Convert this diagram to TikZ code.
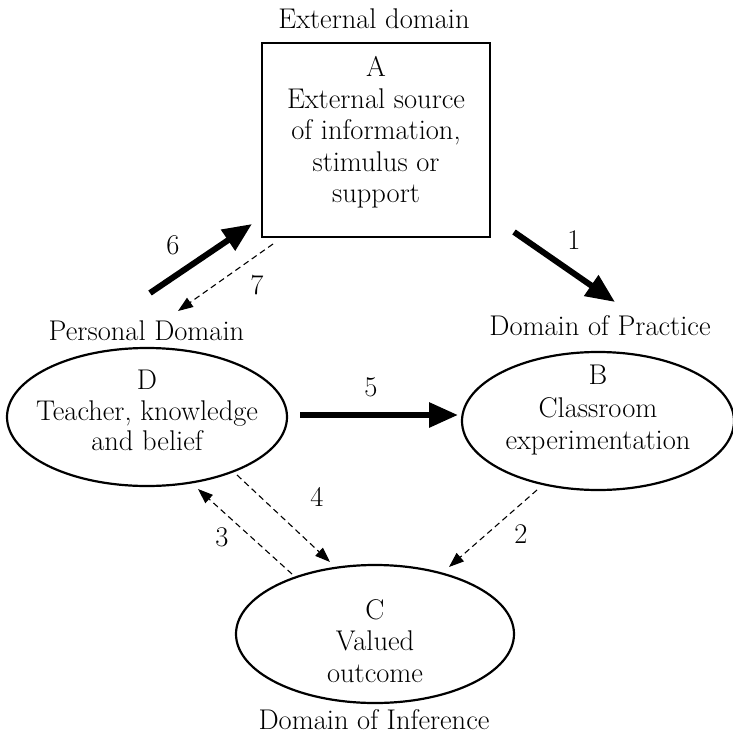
\documentclass[tikz,border=0pt]{standalone}
\usepackage{fontspec}
\setmainfont{Latin Modern Roman}
\usetikzlibrary{arrows.meta,shapes.geometric}
\begin{document}
\begin{tikzpicture}[x=1pt,y=-1pt,
  lbl/.style={anchor=base,inner sep=0pt,font=\fontsize{28.5}{31}\selectfont},
  num/.style={inner sep=0pt,font=\fontsize{28.5}{31}\selectfont},
  boxA/.style={draw,line width=2.4pt},
  oval/.style={draw,ellipse,line width=2.2pt,inner sep=0pt},
  thickarrow/.style={line width=6pt,-{Triangle[length=29pt,width=24pt]}},
  dasharrow/.style={line width=1.1pt,dash pattern=on 6pt off 4pt,-{Triangle[length=15pt,width=11pt]}}
]
\useasboundingbox (0,0) rectangle (732,735);

% Box A
\draw[boxA] (262,43) rectangle (490,237);
\node[lbl] (extdom) at (374,29) {External domain};
\node[lbl] (a1) at (376,77) {A};
\node[lbl] (a2) at (376,109) {External source};
\node[lbl] (a3) at (376,140) {of information,};
\node[lbl] (a4) at (376,172) {stimulus or};
\node[lbl] (a5) at (376,203) {support};

% Ellipse D
\node[oval,minimum width=280pt,minimum height=138pt] (D) at (147,417) {};
\node[lbl] (pd) at (146.5,340) {Personal Domain};
\node[lbl] (d1) at (147,389) {D};
\node[lbl] (d2) at (147,420) {Teacher, knowledge};
\node[lbl] (d3) at (147,450) {and belief};

% Ellipse B
\node[oval,minimum width=272pt,minimum height=138pt] (B) at (598,421) {};
\node[lbl] (dp) at (600,335) {Domain of Practice};
\node[lbl] (b1) at (598,384) {B};
\node[lbl] (b2) at (598,417) {Classroom};
\node[lbl] (b3) at (598,449) {experimentation};

% Ellipse C
\node[oval,minimum width=278pt,minimum height=138pt] (C) at (375,634) {};
\node[lbl] (c1) at (375,619) {C};
\node[lbl] (c2) at (375,650) {Valued};
\node[lbl] (c3) at (375,682) {outcome};
\node[lbl] (di) at (374,729) {Domain of Inference};

% connector end points
\coordinate (e1s) at (514,232); \coordinate (e1t) at (615,302);
\coordinate (e6s) at (150,293); \coordinate (e6t) at (252,224);
\coordinate (e7s) at (273,244); \coordinate (e7t) at (178,311);
\coordinate (e5s) at (300,415); \coordinate (e5t) at (458,415);
\coordinate (e2s) at (537,490); \coordinate (e2t) at (449,567);
\coordinate (e4s) at (237,475); \coordinate (e4t) at (330,562);
\coordinate (e3s) at (292,574); \coordinate (e3t) at (198,489);

\draw[thickarrow] (e1s) -- (e1t);
\draw[thickarrow] (e6s) -- (e6t);
\draw[thickarrow] (e5s) -- (e5t);
\draw[dasharrow] (e7s) -- (e7t);
\draw[dasharrow] (e2s) -- (e2t);
\draw[dasharrow] (e4s) -- (e4t);
\draw[dasharrow] (e3s) -- (e3t);

\node[num] (n1) at (574,240) {1};
\node[num] (n2) at (521,534) {2};
\node[num] (n3) at (222,537) {3};
\node[num] (n4) at (317,497) {4};
\node[num] (n5) at (371,387) {5};
\node[num] (n6) at (173,245) {6};
\node[num] (n7) at (257,285) {7};
\end{tikzpicture}
\end{document}
